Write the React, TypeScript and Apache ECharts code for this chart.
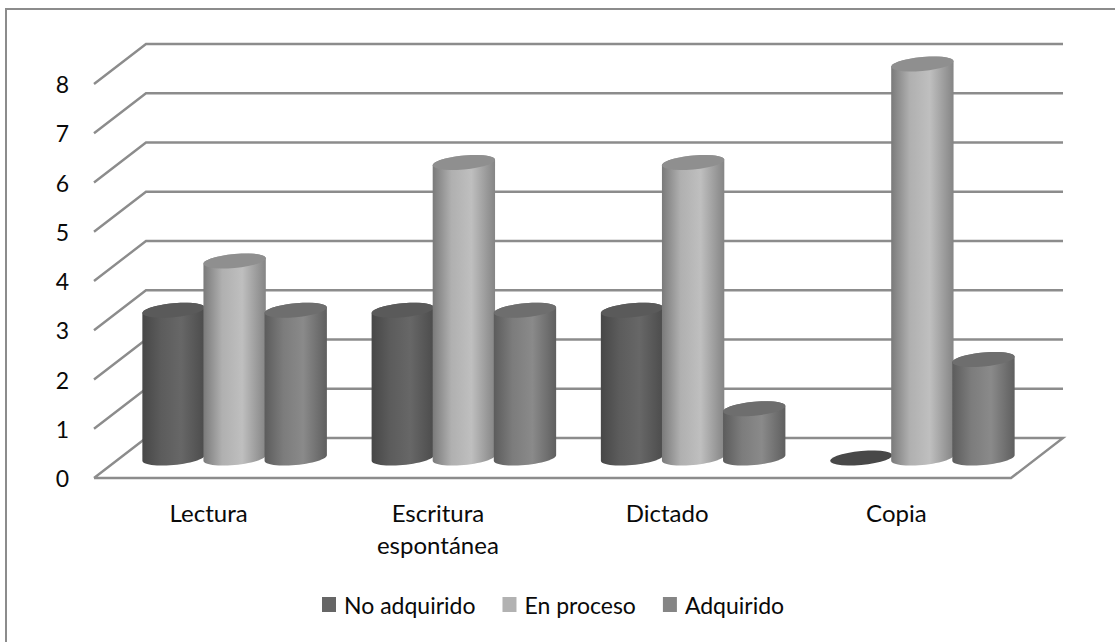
import React, { useEffect, useRef } from "react";
import * as echarts from "echarts";

const categories = ["Lectura", "Escritura\nespontánea", "Dictado", "Copia"];
const noAdquirido = [3, 3, 3, 0];
const enProceso = [4, 6, 6, 8];
const adquirido = [3, 3, 1, 2];
const wallTicks = [0, 1, 2, 3, 4, 5, 6, 7, 8];

const FONT = "Lato, Carlito, sans-serif";
const LINE = "#8c8c8c";
const DEPTH_X = 52;
const DEPTH_Y = 40;

const looks = [
  { name: "No adquirido", swatch: "#666666", top: "#5a5a5a", stops: ["#474747", "#5c5c5c", "#676767", "#4c4c4c"] },
  { name: "En proceso", swatch: "#b2b2b2", top: "#8f8f8f", stops: ["#7a7a7a", "#b0b0b0", "#bfbfbf", "#858585"] },
  { name: "Adquirido", swatch: "#858585", top: "#6e6e6e", stops: ["#5c5c5c", "#7c7c7c", "#8a8a8a", "#5f5f5f"] },
];

// Point on a slightly sheared ellipse, which gives the cylinder caps their tilt.
const capPoint = (cx: number, cy: number, rx: number, t: number) => [
  cx + rx * Math.cos(t),
  cy + 7 * Math.sin(t) - 0.09 * rx * Math.cos(t),
];

const arc = (cx: number, cy: number, rx: number, from: number, to: number) => {
  const pts: number[][] = [];
  for (let i = 0; i <= 28; i++) pts.push(capPoint(cx, cy, rx, from + ((to - from) * i) / 28));
  return pts;
};

const cylinderItem = (seriesIndex: number) => (_params: any, api: any) => {
  const look = looks[seriesIndex];
  const cat = api.value(0);
  const val = api.value(1);
  const band = api.size([1, 0])[0];
  const step = band * 0.2665;
  const rx = band * 0.136;
  const top = api.coord([cat, val]);
  const base = api.coord([cat, 0]);
  const cx = top[0] + DEPTH_X / 2 + (seriesIndex - 1) * step;
  const topY = top[1] - DEPTH_Y / 2;
  const baseY = base[1] - DEPTH_Y / 2;
  const children: any[] = [];
  if (val > 0) {
    children.push({
      type: "polygon",
      silent: true,
      shape: { points: [...arc(cx, baseY, rx, 0, Math.PI), ...arc(cx, topY, rx, Math.PI, 2 * Math.PI)] },
      style: {
        fill: new echarts.graphic.LinearGradient(0, 0, 1, 0, [
          { offset: 0, color: look.stops[0] },
          { offset: 0.3, color: look.stops[1] },
          { offset: 0.62, color: look.stops[2] },
          { offset: 1, color: look.stops[3] },
        ]),
      },
    });
  }
  children.push({
    type: "polygon",
    silent: true,
    shape: { points: arc(cx, topY, rx, 0, 2 * Math.PI) },
    style: { fill: val > 0 ? look.top : "#484848" },
  });
  return { type: "group", children };
};

// One wall line per tick: the diagonal on the side wall, then the run along the back.
const wallItem = (params: any, api: any) => {
  const box = params.coordSys;
  const y = api.coord([0, api.value(1)])[1];
  const left = box.x;
  const right = box.x + box.width;
  const pts = [
    [left, y],
    [left + DEPTH_X, y - DEPTH_Y],
    [right + DEPTH_X, y - DEPTH_Y],
  ];
  if (api.value(1) === 0) pts.push([right, y], [left, y]);
  return {
    type: "polyline",
    silent: true,
    shape: { points: pts },
    style: { fill: "none", stroke: LINE, lineWidth: 2.4 },
  };
};

export default function App() {
  const ref = useRef<HTMLDivElement>(null);

  useEffect(() => {
    const chart = echarts.init(ref.current!, undefined, { renderer: "svg" });
    const values = [noAdquirido, enProceso, adquirido];
    chart.setOption({
      animation: false,
      backgroundColor: "#ffffff",
      textStyle: { fontFamily: FONT },
      graphic: [
        // The chart frame shows along its top and left sides only.
        {
          type: "polyline",
          silent: true,
          z: 0,
          shape: { points: [[6, 642], [6, 9], [1115, 9]] },
          style: { fill: "none", stroke: "#8c8c8c", lineWidth: 2 },
        },
      ],
      grid: { left: 94, top: 84, width: 917, height: 394 },
      xAxis: {
        type: "category",
        data: categories,
        axisLine: { show: false },
        axisTick: { show: false },
        axisLabel: { color: "#0a0a0a", fontSize: 24, fontFamily: FONT, lineHeight: 32, margin: 18 },
      },
      yAxis: {
        type: "value",
        min: 0,
        max: 8,
        interval: 1,
        axisLine: { show: false },
        axisTick: { show: false },
        splitLine: { show: false },
        axisLabel: { color: "#0a0a0a", fontSize: 23, fontFamily: FONT, margin: 25 },
      },
      legend: {
        left: 317,
        top: 588,
        icon: "rect",
        itemWidth: 14,
        itemHeight: 15,
        itemGap: 27,
        data: looks.map((l) => l.name),
        selectedMode: false,
        textStyle: { color: "#0a0a0a", fontSize: 23, fontFamily: FONT, padding: [0, 0, 0, 3] },
      },
      series: [
        {
          type: "custom",
          name: "wall",
          z: 1,
          renderItem: wallItem,
          data: wallTicks.map((t) => [0, t]),
          encode: { x: 0, y: 1 },
          silent: true,
        },
        ...looks.map((look, s) => ({
          type: "custom",
          name: look.name,
          z: 2 + s,
          itemStyle: { color: look.swatch },
          renderItem: cylinderItem(s),
          data: values[s].map((v, i) => [i, v]),
          encode: { x: 0, y: 1 },
          silent: true,
        })),
      ],
    });
    return () => chart.dispose();
  }, []);

  return <div ref={ref} style={{ position: "fixed", left: 0, top: 0, width: 1115, height: 642 }} />;
}
